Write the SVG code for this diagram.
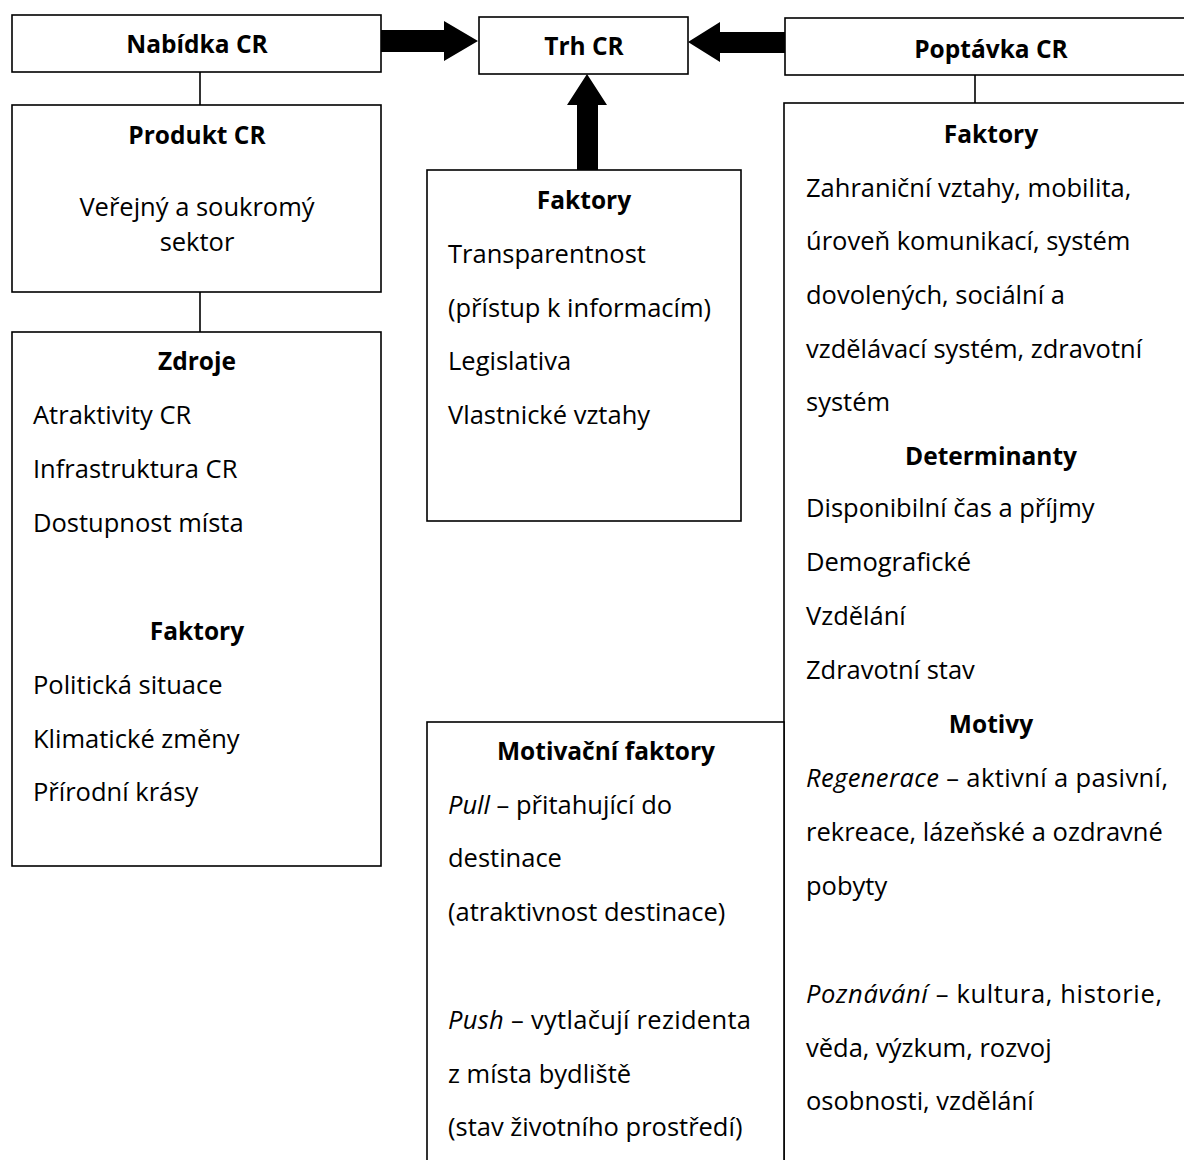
<svg xmlns="http://www.w3.org/2000/svg" width="1184" height="1160" viewBox="0 0 1184 1160">
<style>
.box{fill:#fff;stroke:#000;stroke-width:1.6}
.ln{stroke:#000;stroke-width:1.6;fill:none}
.arr{fill:#000;stroke:none}
text{font-family:"Open Sans",Lato,"Liberation Sans",sans-serif;font-size:25.5px;fill:#000}
.b{font-weight:bold;font-size:24.5px}
.c{text-anchor:middle}
.i{font-style:italic}
</style>
<rect width="1184" height="1160" fill="#fff"/>
<g id="connectors">
<line class="ln" x1="200" y1="72" x2="200" y2="105"/>
<line class="ln" x1="200" y1="292" x2="200" y2="332"/>
<line class="ln" x1="975" y1="75" x2="975" y2="103"/>
<polygon class="arr" points="381,30 444,30 444,21 478,41 444,61 444,52 381,52"/>
<polygon class="arr" points="785,32 720,32 720,22 688,42 720,62 720,53 785,53"/>
<polygon class="arr" points="577,170 577,105 567,105 587,74 607,105 598,105 598,170"/>
</g>
<g id="nabidka">
<rect class="box" x="12" y="15" width="369" height="57"/>
<text class="b c" x="197" y="53">Nabídka CR</text>
</g>
<g id="trh">
<rect class="box" x="479" y="17" width="209" height="57"/>
<text class="b c" x="584" y="55">Trh CR</text>
</g>
<g id="poptavka">
<rect class="box" x="785" y="18" width="420" height="57"/>
<text class="b c" x="991" y="58">Poptávka CR</text>
</g>
<g id="produkt">
<rect class="box" x="12" y="105" width="369" height="187"/>
<text class="b c" x="197" y="144">Produkt CR</text>
<text class="c" x="197" y="216">Veřejný a soukromý</text>
<text class="c" x="197" y="251">sektor</text>
</g>
<g id="zdroje">
<rect class="box" x="12" y="332" width="369" height="534"/>
<text class="b c" x="197" y="370">Zdroje</text>
<text x="33" y="424">Atraktivity CR</text>
<text x="33" y="478">Infrastruktura CR</text>
<text x="33" y="532">Dostupnost místa</text>
<text class="b c" x="197" y="640">Faktory</text>
<text x="33" y="694">Politická situace</text>
<text x="33" y="748">Klimatické změny</text>
<text x="33" y="801">Přírodní krásy</text>
</g>
<g id="faktory-trh">
<rect class="box" x="427" y="170" width="314" height="351"/>
<text class="b c" x="584" y="209">Faktory</text>
<text x="448" y="263">Transparentnost</text>
<text x="448" y="317">(přístup k informacím)</text>
<text x="448" y="370">Legislativa</text>
<text x="448" y="424">Vlastnické vztahy</text>
</g>
<g id="poptavka-detail">
<rect class="box" x="784" y="103" width="420" height="1080"/>
<text class="b c" x="991" y="143">Faktory</text>
<text x="806" y="197">Zahraniční vztahy, mobilita,</text>
<text x="806" y="250">úroveň komunikací, systém</text>
<text x="806" y="304">dovolených, sociální a</text>
<text x="806" y="358">vzdělávací systém, zdravotní</text>
<text x="806" y="411">systém</text>
<text class="b c" x="991" y="465">Determinanty</text>
<text x="806" y="517">Disponibilní čas a příjmy</text>
<text x="806" y="571">Demografické</text>
<text x="806" y="625">Vzdělání</text>
<text x="806" y="679">Zdravotní stav</text>
<text class="b c" x="991" y="733">Motivy</text>
<text x="806" y="787" textLength="362"><tspan class="i">Regenerace</tspan> – aktivní a pasivní,</text>
<text x="806" y="841">rekreace, lázeňské a ozdravné</text>
<text x="806" y="895">pobyty</text>
<text x="806" y="1003" textLength="356"><tspan class="i">Poznávání</tspan> – kultura, historie,</text>
<text x="806" y="1057">věda, výzkum, rozvoj</text>
<text x="806" y="1110">osobnosti, vzdělání</text>
</g>
<g id="motivacni">
<rect class="box" x="427" y="722" width="357" height="460"/>
<text class="b c" x="606" y="760">Motivační faktory</text>
<text x="448" y="814"><tspan class="i">Pull</tspan> – přitahující do</text>
<text x="448" y="867">destinace</text>
<text x="448" y="921">(atraktivnost destinace)</text>
<text x="448" y="1029" textLength="303"><tspan class="i">Push</tspan> – vytlačují rezidenta</text>
<text x="448" y="1083">z místa bydliště</text>
<text x="448" y="1136">(stav životního prostředí)</text>
</g>
</svg>
